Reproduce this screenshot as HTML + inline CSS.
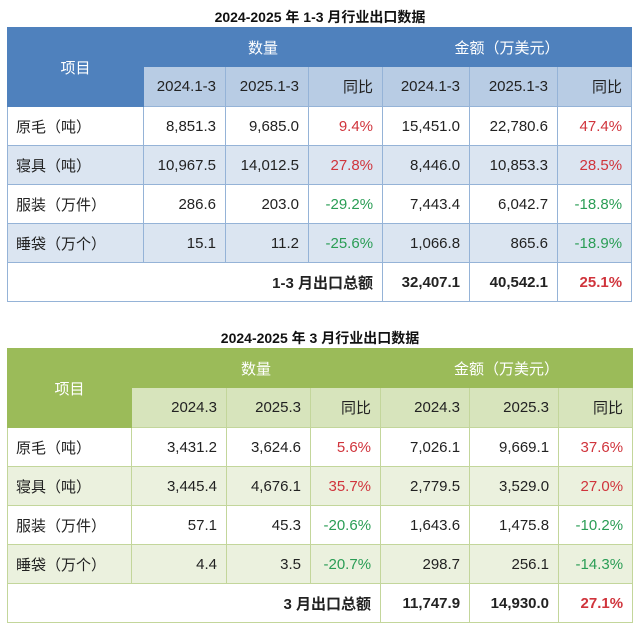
<!DOCTYPE html>
<html><head><meta charset="utf-8"><style>
body{margin:0;width:640px;height:628px;background:#fff;font-family:"Liberation Sans","Noto Sans CJK SC",sans-serif;position:relative;overflow:hidden}
.t{position:absolute;left:0;width:640px;text-align:center;font-weight:bold;font-size:14px;color:#111;font-family:"Liberation Sans","Noto Sans CJK SC",sans-serif}
table{position:absolute;border-collapse:collapse;table-layout:fixed;font-size:15px;color:#222}
td{padding:0 9px 0 0;text-align:right;white-space:nowrap}
td.l{text-align:left;padding-left:8px}
td.c{text-align:center;padding:0}
.r{color:#d0343c}.g{color:#2a9d55}.b{font-weight:bold}
#a td{border:1px solid #95b3d7}
#a .h{background:#4f81bd;color:#fff;border-color:#4f81bd}
#a .s{background:#b8cce4;border-color:#95b3d7}
#a .z td{background:#dbe5f1}
#b td{border:1px solid #c3d69b}
#b .h{background:#9bbb59;color:#fff;border-color:#9bbb59}
#b .s{background:#d7e4bc}
#b .z td{background:#ebf1de}
</style></head><body>
<div class="t" style="top:7px">2024-2025 年 1-3 月行业出口数据</div>
<table id="a" style="left:7px;top:27px;width:624px">
<colgroup><col style="width:136px"><col style="width:82px"><col style="width:83px"><col style="width:74px"><col style="width:87px"><col style="width:88px"><col style="width:74px"></colgroup>
<tr style="height:39px"><td class="h c" rowspan="2">项目</td><td class="h c" colspan="3">数量</td><td class="h c" colspan="3">金额（万美元）</td></tr>
<tr style="height:40px"><td class="s">2024.1-3</td><td class="s">2025.1-3</td><td class="s">同比</td><td class="s">2024.1-3</td><td class="s">2025.1-3</td><td class="s">同比</td></tr>
<tr style="height:39px"><td class="l">原毛（吨）</td><td>8,851.3</td><td>9,685.0</td><td class="r">9.4%</td><td>15,451.0</td><td>22,780.6</td><td class="r">47.4%</td></tr>
<tr style="height:39px" class="z"><td class="l">寝具（吨）</td><td>10,967.5</td><td>14,012.5</td><td class="r">27.8%</td><td>8,446.0</td><td>10,853.3</td><td class="r">28.5%</td></tr>
<tr style="height:39px"><td class="l">服装（万件）</td><td>286.6</td><td>203.0</td><td class="g">-29.2%</td><td>7,443.4</td><td>6,042.7</td><td class="g">-18.8%</td></tr>
<tr style="height:39px" class="z"><td class="l">睡袋（万个）</td><td>15.1</td><td>11.2</td><td class="g">-25.6%</td><td>1,066.8</td><td>865.6</td><td class="g">-18.9%</td></tr>
<tr style="height:39px"><td colspan="4" class="b">1-3 月出口总额</td><td class="b">32,407.1</td><td class="b">40,542.1</td><td class="b r">25.1%</td></tr>
</table>
<div class="t" style="top:328px">2024-2025 年 3 月行业出口数据</div>
<table id="b" style="left:7px;top:348px;width:625px">
<colgroup><col style="width:124px"><col style="width:95px"><col style="width:84px"><col style="width:70px"><col style="width:89px"><col style="width:89px"><col style="width:74px"></colgroup>
<tr style="height:39px"><td class="h c" rowspan="2">项目</td><td class="h c" colspan="3">数量</td><td class="h c" colspan="3">金额（万美元）</td></tr>
<tr style="height:40px"><td class="s">2024.3</td><td class="s">2025.3</td><td class="s">同比</td><td class="s">2024.3</td><td class="s">2025.3</td><td class="s">同比</td></tr>
<tr style="height:39px"><td class="l">原毛（吨）</td><td>3,431.2</td><td>3,624.6</td><td class="r">5.6%</td><td>7,026.1</td><td>9,669.1</td><td class="r">37.6%</td></tr>
<tr style="height:39px" class="z"><td class="l">寝具（吨）</td><td>3,445.4</td><td>4,676.1</td><td class="r">35.7%</td><td>2,779.5</td><td>3,529.0</td><td class="r">27.0%</td></tr>
<tr style="height:39px"><td class="l">服装（万件）</td><td>57.1</td><td>45.3</td><td class="g">-20.6%</td><td>1,643.6</td><td>1,475.8</td><td class="g">-10.2%</td></tr>
<tr style="height:39px" class="z"><td class="l">睡袋（万个）</td><td>4.4</td><td>3.5</td><td class="g">-20.7%</td><td>298.7</td><td>256.1</td><td class="g">-14.3%</td></tr>
<tr style="height:39px"><td colspan="4" class="b">3 月出口总额</td><td class="b">11,747.9</td><td class="b">14,930.0</td><td class="b r">27.1%</td></tr>
</table>
</body></html>
